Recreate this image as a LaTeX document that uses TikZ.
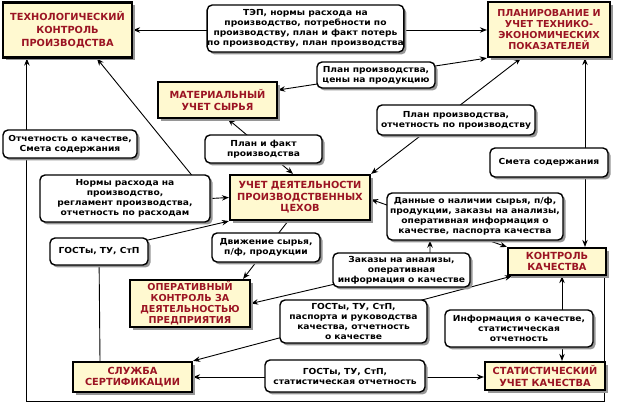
\documentclass[tikz,border=0pt]{standalone}
\usepackage{fontspec}
\setmainfont{DejaVu Sans}
\newfontfamily\labfont[FakeStretch=1.1]{DejaVu Sans}
\usetikzlibrary{arrows.meta,shadows,calc}
\definecolor{cream}{RGB}{255,249,208}
\definecolor{titlered}{RGB}{155,20,35}
\definecolor{shade}{RGB}{150,150,150}
\pgfdeclarelayer{bg}
\pgfsetlayers{bg,main}
\begin{document}
\begin{tikzpicture}[x=1pt,y=-1pt,
  >={Stealth[length=7pt,width=5.5pt]},
  mainbox/.style={draw=black, line width=2.2pt, fill=cream, text=titlered,
    font=\bfseries\fontsize{9.8}{11.5}\selectfont, align=center, inner sep=0pt,
    drop shadow={shadow xshift=3pt, shadow yshift=-3pt, fill=shade, opacity=1}},
  tightbox/.style={font=\bfseries\fontsize{9.6}{10.8}\selectfont},
  loosebox/.style={font=\bfseries\fontsize{9.8}{13}\selectfont},
  lab/.style={draw=black, line width=1.4pt, fill=white, rounded corners=5pt,
    font=\labfont\bfseries\fontsize{8.3}{10}\selectfont, align=center, inner sep=0pt,
    drop shadow={shadow xshift=2.5pt, shadow yshift=-2.5pt, fill=shade, opacity=1}},
  conn/.style={line width=0.9pt, draw=black}]
\useasboundingbox (0,0) rectangle (625,406);
% main boxes
\node[mainbox, loosebox, minimum width=129pt, minimum height=55pt] (tech) at (67.5,30) {ТЕХНОЛОГИЧЕСКИЙ\\КОНТРОЛЬ\\ПРОИЗВОДСТВА};
\node[mainbox, tightbox, minimum width=122pt, minimum height=55pt] (plan) at (549,29.5) {ПЛАНИРОВАНИЕ И\\УЧЕТ ТЕХНИКО-\\ЭКОНОМИЧЕСКИХ\\ПОКАЗАТЕЛЕЙ};
\node[mainbox, minimum width=119pt, minimum height=36pt] (mat) at (217.5,100) {МАТЕРИАЛЬНЫЙ\\УЧЕТ СЫРЬЯ};
\node[mainbox, minimum width=140pt, minimum height=45pt] (ceh) at (300,197.5) {УЧЕТ ДЕЯТЕЛЬНОСТИ\\ПРОИЗВОДСТВЕННЫХ\\ЦЕХОВ};
\node[mainbox, tightbox, minimum width=120pt, minimum height=47pt] (oper) at (190,303.5) {ОПЕРАТИВНЫЙ\\КОНТРОЛЬ ЗА\\ДЕЯТЕЛЬНОСТЬЮ\\ПРЕДПРИЯТИЯ};
\node[mainbox, minimum width=98pt, minimum height=27pt] (kk) at (557,261.5) {КОНТРОЛЬ\\КАЧЕСТВА};
\node[mainbox, minimum width=119pt, minimum height=30pt] (sert) at (132.5,377) {СЛУЖБА\\СЕРТИФИКАЦИИ};
\node[mainbox, minimum width=120pt, minimum height=28pt] (stat) at (545,376) {СТАТИСТИЧЕСКИЙ\\УЧЕТ КАЧЕСТВА};
% labels
\node[lab, minimum width=195pt, minimum height=47pt] (l1) at (305.5,28.5) {ТЭП, нормы расхода на\\производство, потребности по\\производству, план и факт потерь\\по производству, план производства};
\node[lab, minimum width=118pt, minimum height=26pt] (l2) at (376,75) {План производства,\\цены на продукцию};
\node[lab, minimum width=158pt, minimum height=30pt] (l3) at (456,120) {План производства,\\отчетность по производству};
\node[lab, minimum width=117pt, minimum height=28pt] (l4) at (263.5,149) {План и факт\\производства};
\node[lab, minimum width=134pt, minimum height=28pt] (l5) at (70,144) {Отчетность о качестве,\\Смета содержания};
\node[lab, minimum width=170pt, minimum height=47pt] (l6) at (125,198.5) {Нормы расхода на\\производство,\\регламент производства,\\отчетность по расходам};
\node[lab, minimum width=118pt, minimum height=29pt] (l7) at (549,162.5) {Смета содержания};
\node[lab, minimum width=176pt, minimum height=47pt] (l8) at (475,216.5) {Данные о наличии сырья, п/ф,\\продукции, заказы на анализы,\\оперативная информация о\\качестве, паспорта качества};
\node[lab, minimum width=98pt, minimum height=27pt] (l9) at (99,251.5) {ГОСТы, ТУ, СтП};
\node[lab, minimum width=108pt, minimum height=29pt] (l10) at (266,247.5) {Движение сырья,\\п/ф, продукции};
\node[lab, minimum width=137pt, minimum height=34pt] (l11) at (401.5,270) {Заказы на анализы,\\оперативная\\информация о качестве};
\node[lab, minimum width=147pt, minimum height=43pt] (l12) at (353.5,321.5) {ГОСТы, ТУ, СтП,\\паспорта и руководства\\качества, отчетность\\о качестве};
\node[lab, minimum width=148pt, minimum height=37pt] (l13) at (519,328.5) {Информация о качестве,\\статистическая\\отчетность};
\node[lab, minimum width=160pt, minimum height=32pt] (l14) at (345,376) {ГОСТы, ТУ, СтП,\\статистическая отчетность};
% connectors
\begin{pgfonlayer}{bg}
\draw[conn,<->] (tech.east) -- (tech.east -| plan.west);
\draw[conn,<->] (plan.south west) -- ([yshift=10pt]mat.east);
\draw[conn,<->] (ceh.north east) -- ([xshift=-28pt]plan.south);
\draw[conn,<->] ([xshift=10.5pt]mat.south) -- ([xshift=-7pt]ceh.north);
\draw[conn,<->] ([xshift=29.5pt]tech.south) -- (l6.east) -- (ceh.west);
\draw[conn,->] ([xshift=-32.5pt]sert.north) -- (l9.center) -- (ceh.south west);
\draw[conn,->] ([xshift=-12pt]ceh.south) -- ([xshift=-8pt]oper.north east);
\draw[conn,<->] ([yshift=-2pt]ceh.east) -- (kk.north west);
\draw[conn,<->] ([xshift=-45pt]l8.south) -- ([xshift=28.5pt,yshift=8pt]l11.center) -- (oper.east);
\draw[conn,<->] (sert.north east) -- ([xshift=5pt]kk.south west);
\draw[conn,<->] ([xshift=5pt]kk.south) -- ([xshift=17pt]stat.north);
\draw[conn,<->] (sert.east) -- (sert.east -| stat.west);
\draw[conn,<->] ([xshift=36pt]plan.south) -- ([xshift=28pt]kk.north);
\draw[conn,->] ([xshift=-3pt]kk.south east) -- ++(0,125) -| ([xshift=25pt]tech.south west);
\end{pgfonlayer}
\end{tikzpicture}
\end{document}
